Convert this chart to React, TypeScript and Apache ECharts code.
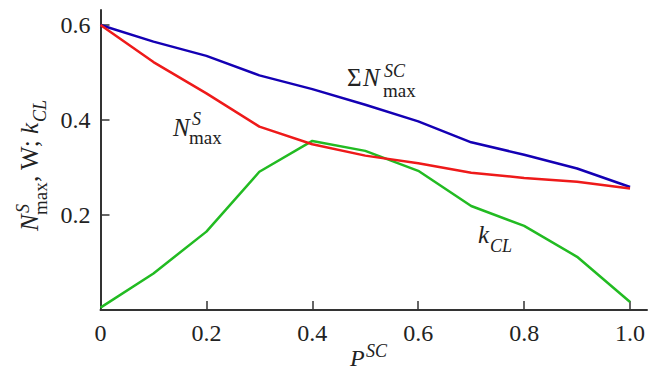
import { useEffect, useRef } from "react";
import * as echarts from "echarts";

// P^SC values (x) and the three curves
const pSC = [0, 0.1, 0.2, 0.3, 0.4, 0.5, 0.6, 0.7, 0.8, 0.9, 1.0];
const sumNmaxSC = [0.6, 0.565, 0.535, 0.494, 0.465, 0.432, 0.397, 0.353, 0.327, 0.298, 0.259];
const nMaxS = [0.6, 0.522, 0.456, 0.386, 0.349, 0.325, 0.309, 0.289, 0.278, 0.27, 0.256];
const kCL = [0.005, 0.077, 0.165, 0.291, 0.356, 0.335, 0.293, 0.219, 0.177, 0.112, 0.017];
const xTicks = [0, 0.2, 0.4, 0.6, 0.8, 1.0];
const yTicks = [0.2, 0.4, 0.6];

const FONT = "Liberation Serif";
const INK = "#222";

function t(text: string, x: number, baseline: number, size: number, italic: boolean) {
  return {
    type: "text",
    x,
    y: baseline - 0.34 * size,
    silent: true,
    style: {
      text,
      fontFamily: FONT,
      fontSize: size,
      fontStyle: italic ? "italic" : "normal",
      fill: INK,
      align: "left",
      textAlign: "left",
      verticalAlign: "middle",
      textVerticalAlign: "middle",
    },
  };
}

export default function App() {
  const ref = useRef<HTMLDivElement>(null);
  useEffect(() => {
    if (!ref.current) return;
    const chart = echarts.init(ref.current, undefined, { renderer: "svg" });
    const pairs = (ys: number[]) => pSC.map((x, i) => [x, ys[i]]);
    const axisCommon = {
      type: "value",
      splitLine: { show: false },
      axisLine: { show: true, onZero: false, lineStyle: { color: "#333", width: 2 } },
    };
    chart.setOption({
      animation: false,
      backgroundColor: "#fff",
      grid: { left: 100.5, top: 10, right: 9, bottom: 62, containLabel: false, outerBoundsMode: "none" },
      xAxis: {
        ...axisCommon,
        min: 0,
        max: 1.032,
        interval: 0.2,
        axisTick: { show: true, inside: true, length: 9, lineStyle: { color: "#333", width: 1.5 }, customValues: xTicks },
        axisLabel: {
          customValues: xTicks,
          margin: 11,
          fontFamily: FONT,
          fontSize: 24,
          color: INK,
          formatter: (v: number) => (v === 0 ? "0" : v.toFixed(1)),
        },
      },
      yAxis: {
        ...axisCommon,
        min: 0,
        max: 0.6316,
        interval: 0.2,
        axisTick: { show: true, inside: true, length: 9, lineStyle: { color: "#333", width: 1.5 }, customValues: yTicks },
        axisLabel: {
          customValues: yTicks,
          margin: 10,
          fontFamily: FONT,
          fontSize: 24,
          color: INK,
          formatter: (v: number) => v.toFixed(1),
        },
      },
      series: [
        { name: "ΣN^SC_max", type: "line", data: pairs(sumNmaxSC), showSymbol: false, lineStyle: { color: "#1400b4", width: 2.5 }, z: 3 },
        { name: "N^S_max", type: "line", data: pairs(nMaxS), showSymbol: false, lineStyle: { color: "#ee1a1a", width: 2.5 }, z: 4 },
        { name: "k_CL", type: "line", data: pairs(kCL), showSymbol: false, lineStyle: { color: "#22bb22", width: 2.5 }, z: 2 },
      ],
      graphic: [
        // curve label N^S_max
        t("N", 173, 136, 25, true),
        t("S", 192, 125, 18, true),
        t("max", 189, 144, 19, false),
        // curve label ΣN^SC_max
        t("Σ", 347, 86, 25, false),
        t("N", 363, 86, 25, true),
        t("SC", 384, 77, 18, true),
        t("max", 383, 97, 19, false),
        // curve label k_CL
        t("k", 478, 243, 25, true),
        t("CL", 490, 252, 18, true),
        // x axis name P^SC
        t("P", 350, 366, 24, true),
        t("SC", 366, 357, 18, true),
        // y axis name N^S_max, W; k_CL (rotated)
        {
          type: "group",
          x: 38,
          y: 231,
          rotation: Math.PI / 2,
          children: [
            t("N", 0, 0, 25, true),
            t("S", 18, -9, 18, true),
            t("max", 16, 9, 19, false),
            t(", W;", 49, 0, 25, false),
            t("k", 97, 0, 25, true),
            t("CL", 109, 8, 18, true),
          ],
        },
      ],
    });
    return () => chart.dispose();
  }, []);
  return <div ref={ref} style={{ position: "fixed", left: 0, top: 0, width: 656, height: 372 }} />;
}
